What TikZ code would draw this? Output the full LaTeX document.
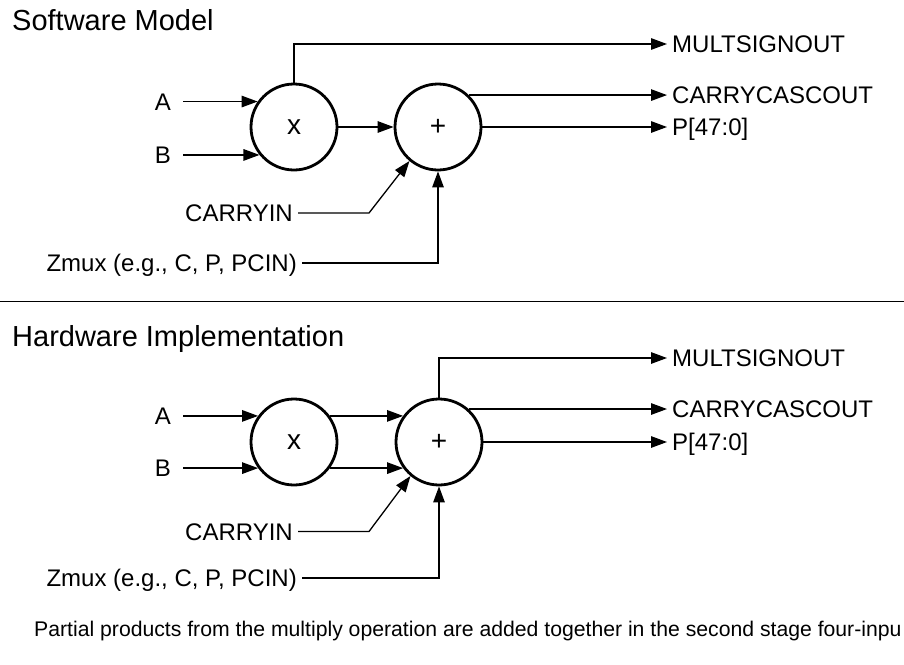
\documentclass[tikz,border=0pt]{standalone}
\usepackage{fontspec}
\setmainfont{Liberation Sans}
\usetikzlibrary{arrows.meta}
\begin{document}
\begin{tikzpicture}[x=1pt,y=-1pt,
  conn/.style={line width=1.3pt},
  arr/.style={conn,-{Triangle[length=16pt,width=11.5pt]}},
  op/.style={circle,draw,line width=2.8pt,minimum size=86pt,inner sep=0pt,font=\fontsize{28}{32}\selectfont},
  lab/.style={inner sep=0pt,text height=17.2pt,text depth=0pt,font=\fontsize{24}{28}\selectfont},
  ttl/.style={inner sep=0pt,anchor=base west,font=\fontsize{29}{34}\selectfont},
  foot/.style={inner sep=0pt,anchor=base west,font=\fontsize{21.2}{25}\selectfont}]
\useasboundingbox (0,0) rectangle (904,664);
\coordinate (xo) at (672,0);
% ---------------- Software model ----------------
\node[ttl] (t1) at (12,30) {Software Model};
\node[op] (mul1) at (294,127) {x};
\node[op] (add1) at (438,127) {+};
\node[lab,anchor=east] (A1) at (mul1.145 -| 171,0) {A};
\node[lab,anchor=east] (B1) at (mul1.219 -| 171,0) {B};
\draw[arr,shorten <=12pt] (A1.east) -- (mul1.145);
\draw[arr,shorten <=12pt] (B1.east) -- (mul1.219);
\draw[arr] (mul1.east) -- (add1.west);
\node[lab,anchor=west] (MS1) at (672,44) {MULTSIGNOUT};
\node[lab,anchor=west] (CC1) at (add1.46 -| xo) {CARRYCASCOUT};
\node[lab,anchor=west] (P1) at (add1.east -| xo) {P[47:0]};
\draw[arr,shorten >=5pt] (mul1.north) |- (MS1.west);
\draw[arr,shorten >=5pt] (add1.46) -- (CC1.west);
\draw[arr,shorten >=5pt] (add1.east) -- (P1.west);
\node[lab,anchor=east] (CI1) at (293,213) {CARRYIN};
\coordinate (cb1) at (369,213);
\draw[arr,shorten <=5pt] (CI1.east) -- (cb1) -- (add1.230);
\node[lab,anchor=east] (Z1) at (297,263) {Zmux (e.g., C, P, PCIN)};
\draw[arr,shorten <=5pt] (Z1.east) -| (add1.south);
% separator
\coordinate (s0) at (0,301.5);
\coordinate (s1) at (904,301.5);
\draw[line width=1.5pt] (s0) -- (s1);
% ---------------- Hardware implementation ----------------
\node[ttl] (t2) at (12,346) {Hardware Implementation};
\node[op] (mul2) at (294,442) {x};
\node[op] (add2) at (439,442) {+};
\node[lab,anchor=east] (A2) at (mul2.144 -| 171,0) {A};
\node[lab,anchor=east] (B2) at (mul2.216 -| 171,0) {B};
\draw[arr,shorten <=12pt] (A2.east) -- (mul2.144);
\draw[arr,shorten <=12pt] (B2.east) -- (mul2.216);
\draw[arr] (mul2.36) -- (add2.144);
\draw[arr] (mul2.-36) -- (add2.216);
\node[lab,anchor=west] (MS2) at (672,358) {MULTSIGNOUT};
\node[lab,anchor=west] (CC2) at (add2.48 -| xo) {CARRYCASCOUT};
\node[lab,anchor=west] (P2) at (add2.east -| xo) {P[47:0]};
\draw[arr,shorten >=5pt] (add2.north) |- (MS2.west);
\draw[arr,shorten >=5pt] (add2.48) -- (CC2.west);
\draw[arr,shorten >=5pt] (add2.east) -- (P2.west);
\node[lab,anchor=east] (CI2) at (293,531.5) {CARRYIN};
\coordinate (cb2) at (369,531.5);
\draw[arr,shorten <=5pt] (CI2.east) -- (cb2) -- (add2.230);
\node[lab,anchor=east] (Z2) at (297,578) {Zmux (e.g., C, P, PCIN)};
\draw[arr,shorten <=5pt] (Z2.east) -| (add2.south);
% footer
\node[foot] (f) at (34,636.5) {Partial products from the multiply operation are added together in the second stage four-inpu};
\end{tikzpicture}
\end{document}
